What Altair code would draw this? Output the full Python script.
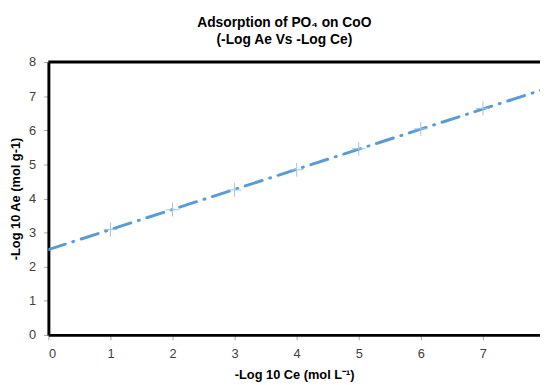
import altair as alt
import pandas as pd

# Data
ce = [1, 2, 3, 4, 5, 6, 7]
ae = [3.09, 3.67, 4.25, 4.84, 5.46, 6.04, 6.64]
trend_x = [0, 8]
trend_y = [2.5, 7.21]
x_ticks = [0, 1, 2, 3, 4, 5, 6, 7]
y_ticks = [0, 1, 2, 3, 4, 5, 6, 7, 8]

points = pd.DataFrame({"x": ce, "y": ae})
trend = pd.DataFrame({"x": trend_x, "y": trend_y})

X_MAX = 7.92
xscale = alt.Scale(domain=[0, X_MAX], nice=False, zero=False)
yscale = alt.Scale(domain=[0, 8], nice=False)

FONT = "Liberation Sans"

xaxis = alt.Axis(
    title="-Log 10 Ce (mol L\u207b\u00b9)",
    values=x_ticks,
    format="d",
    labelOverlap=False,
    grid=False,
    domainColor="black", domainWidth=3,
    tickColor="#a6a6a6", tickSize=5, tickWidth=1,
    labelColor="#404040", labelFontSize=13, labelFont=FONT, labelPadding=8,
    titleFont=FONT, titleFontSize=13, titleFontWeight="bold", titleColor="black",
    titlePadding=8,
)
yaxis = alt.Axis(
    title="-Log 10 Ae (mol g-1)",
    values=y_ticks,
    format="d",
    labelOverlap=False,
    grid=False,
    domainColor="black", domainWidth=3,
    tickColor="#a6a6a6", tickSize=5, tickWidth=1,
    labelColor="#404040", labelFontSize=13, labelFont=FONT, labelPadding=8,
    titleFont=FONT, titleFontSize=13, titleFontWeight="bold", titleColor="black",
    titlePadding=6,
)

line = alt.Chart(trend).mark_line(
    color="#5B9BD5", strokeWidth=3, strokeDash=[18, 8, 1, 8], strokeCap="round", clip=True
).encode(
    x=alt.X("x:Q", scale=xscale, axis=xaxis),
    y=alt.Y("y:Q", scale=yscale, axis=yaxis),
)

pts = alt.Chart(points).mark_point(
    shape="M-1,0L1,0M0,-1L0,1", size=196, filled=False, color="#9DC3E6", strokeWidth=1, opacity=1
).encode(
    x=alt.X("x:Q", scale=xscale, axis=xaxis),
    y=alt.Y("y:Q", scale=yscale, axis=yaxis),
)

top = alt.Chart(pd.DataFrame({"y": [8]})).mark_rule(color="black", strokeWidth=3).encode(
    y=alt.Y("y:Q", scale=yscale, axis=yaxis)
)

chart = alt.layer(line, pts, top).properties(
    width=499,
    height=277,
    autosize=alt.AutoSizeParams(type="none"),
    padding={"left": 41, "top": 52, "right": 0, "bottom": 46},
    title=alt.Title(
        text=["Adsorption of PO\u2084 on CoO", "(-Log Ae Vs -Log Ce)"],
        font=FONT, fontSize=14, fontWeight="bold", color="black",
        anchor="middle", offset=9, lineHeight=18, dx=-10,
    ),
).configure_view(stroke=None).configure(background="white")

chart.save("out.html", embed_options={"renderer": "svg", "actions": False})
